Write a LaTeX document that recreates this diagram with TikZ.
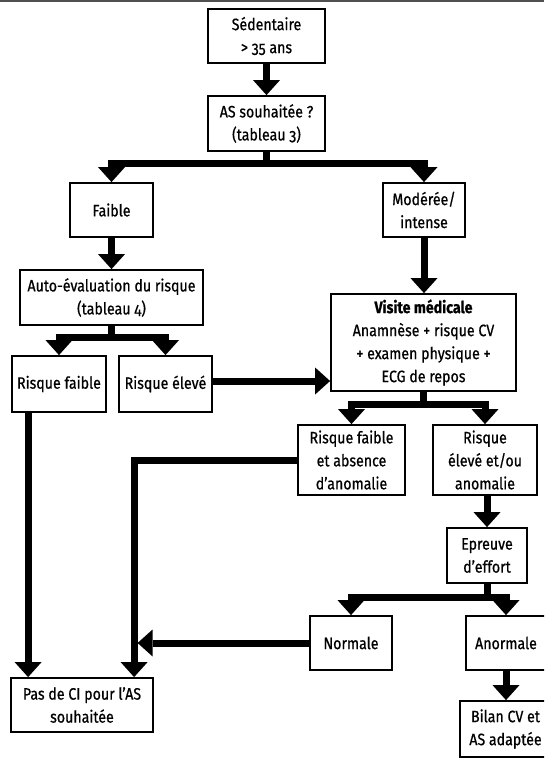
\documentclass[tikz,border=0pt]{standalone}
\usepackage{fontspec}
\setmainfont{Fira Sans}[FakeStretch=0.86, FakeBold=0.7, Numbers=OldStyle]
\usetikzlibrary{arrows.meta}
\definecolor{rulegray}{RGB}{80,80,80}

\begin{document}
\begin{tikzpicture}[x=1pt,y=-1pt,
  box/.style={draw, line width=1.8pt, inner sep=0pt, align=center,
              font=\fontsize{16.5}{23}\selectfont},
  conn/.style={line width=7pt,
               -{Triangle[width=27pt,length=15pt,line width=0pt]}},
]
\clip (0,0) rectangle (544,760);
\fill[white] (0,0) rectangle (544,760);
\draw[rulegray, line width=2.2pt] (0,1) -- (544,1);

% boxes
\node[box, minimum width=117pt, minimum height=54pt] (sed)    at (266.5,36)  {Sédentaire\\> 35 ans};
\node[box, minimum width=117pt, minimum height=55pt] (as)     at (266.5,123.5) {AS souhaitée ?\\(tableau 3)};
\node[box, minimum width=83pt,  minimum height=54pt] (faible) at (111.5,210) {Faible};
\node[box, minimum width=82pt,  minimum height=54pt] (mod)    at (424,210)   {Modérée/\\intense};
\node[box, minimum width=183pt, minimum height=55pt] (auto)   at (111.5,297.5) {Auto-évaluation du risque\\(tableau 4)};
\node[box, minimum width=94pt,  minimum height=56pt] (rf)     at (59,384)    {Risque faible};
\node[box, minimum width=93pt,  minimum height=56pt] (re)     at (165.5,384) {Risque élevé};
\node[box, minimum width=185pt, minimum height=97pt] (visite) at (423.5,342.5)
  {\textbf{Visite médicale}\\Anamnèse + risque CV\\+ examen physique +\\ECG de repos};
\node[box, minimum width=107pt, minimum height=70pt] (rfa)    at (351.5,460) {Risque faible\\et absence\\d’anomalie};
\node[box, minimum width=104pt, minimum height=70pt] (rea)    at (485,460)   {Risque\\élevé et/ou\\anomalie};
\node[box, minimum width=80pt,  minimum height=55pt] (epr)    at (487,555.5) {Epreuve\\d’effort};
\node[box, minimum width=82pt,  minimum height=54pt] (norm)   at (351,643)   {Normale};
\node[box, minimum width=80pt,  minimum height=54pt] (anom)   at (506,643)   {Anormale};
\node[box, minimum width=91pt,  minimum height=56pt] (bilan)  at (505.5,729)  {Bilan CV et\\AS adaptée};
\node[box, minimum width=142pt, minimum height=54pt] (pasci)  at (82,705)    {Pas de CI pour l’AS\\souhaitée};

% junction points on the left collectors
\coordinate (colA) at ([xshift=18pt]pasci.north west);
\coordinate (colB) at ([xshift=124pt]pasci.north west);
\coordinate (colBedge) at ([xshift=127.5pt]pasci.north west);

% connectors
\draw[conn] (sed) -- (as);
\draw[conn] (as.south) -- ++(0,12) -| (faible.north);
\draw[conn] (as.south) -- ++(0,12) -| (mod.north);
\draw[conn] (faible) -- (auto);
\draw[conn] (auto.south) -- ++(0,12) -| (rf.north);
\draw[conn] (auto.south) -- ++(0,12) -| (re.north);
\draw[conn] (mod.south) -- (mod.south |- visite.north);
\draw[conn] ([yshift=3pt]re.east) -- ([yshift=3pt]re.east -| visite.west);
\draw[conn] (visite.south) -- ++(0,13) -| (rfa.north);
\draw[conn] (visite.south) -- ++(0,13) -| (rea.north);
\draw[conn] (epr.north |- rea.south) -- (epr.north);
\draw[conn] (epr.south) -- ++(0,14) -| (norm.north);
\draw[conn] (epr.south) -- ++(0,14) -| (anom.north);
\draw[conn] (anom.south) -- (anom.south |- bilan.north);
\draw[conn] (rf.south -| colA) -- (colA);
\draw[conn] (rfa.west) -| (colB);
\draw[conn] (norm.west) -- (norm.west -| colBedge);
\end{tikzpicture}
\end{document}
